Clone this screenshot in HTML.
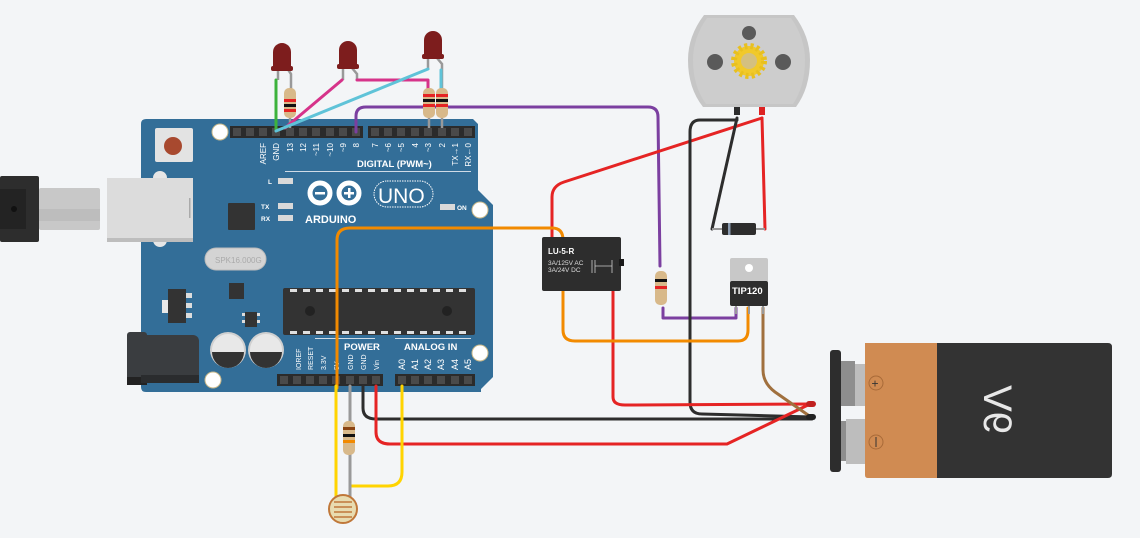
<!DOCTYPE html>
<html><head><meta charset="utf-8"><style>
html,body{margin:0;padding:0;background:#f3f5f7;}
svg{display:block;font-family:"Liberation Sans",sans-serif;}
</style></head><body>
<svg width="1140" height="538" viewBox="0 0 1140 538" xmlns="http://www.w3.org/2000/svg">
<rect width="1140" height="538" fill="#f3f5f7"/>
<rect x="0" y="176" width="39" height="66" fill="#2d2d2d" rx="2"/>
<rect x="0" y="189" width="26" height="40" fill="#232323"/>
<circle cx="14" cy="209" r="3" fill="#111"/>
<rect x="39" y="188" width="61" height="42" fill="#c8c8c8" rx="2"/>
<rect x="39" y="209" width="61" height="12" fill="#bdbdbd"/>
<path d="M146 119 H473 L478 124 V190 L493 205 V377 L481 389 V392 H146 Q141 392 141 387 V124 Q141 119 146 119 Z" fill="#336e98"/>
<rect x="153" y="171" width="14" height="76" rx="7" fill="#e6e6e6"/>
<rect x="107" y="178" width="86" height="63" fill="#dcdcdc"/>
<rect x="107" y="238" width="86" height="4" fill="#bdbdbd"/>
<rect x="189" y="198" width="1.5" height="20" fill="#aaa"/>
<rect x="155" y="128" width="38" height="34" rx="2" fill="#e3e3e3"/>
<circle cx="173" cy="146" r="9" fill="#a8492f"/>
<g fill="#fff" stroke="#c8b88a" stroke-width="1"><circle cx="220" cy="132" r="8"/><circle cx="480" cy="210" r="8"/><circle cx="480" cy="353" r="8"/><circle cx="213" cy="380" r="8"/></g>
<g fill="#2b2b2b"><rect x="230" y="126" width="133" height="12"/><rect x="368" y="126" width="107" height="12"/><rect x="277" y="374" width="106" height="12"/><rect x="395" y="374" width="80" height="12"/></g>
<g fill="#4a4a4a">
<rect x="233" y="128" width="8" height="8"/><rect x="246" y="128" width="8" height="8"/><rect x="259" y="128" width="8" height="8"/><rect x="272" y="128" width="8" height="8"/><rect x="286" y="128" width="8" height="8"/><rect x="299" y="128" width="8" height="8"/><rect x="312" y="128" width="8" height="8"/><rect x="326" y="128" width="8" height="8"/><rect x="339" y="128" width="8" height="8"/><rect x="352" y="128" width="8" height="8"/>
<rect x="371" y="128" width="8" height="8"/><rect x="384" y="128" width="8" height="8"/><rect x="397" y="128" width="8" height="8"/><rect x="411" y="128" width="8" height="8"/><rect x="424" y="128" width="8" height="8"/><rect x="438" y="128" width="8" height="8"/><rect x="451" y="128" width="8" height="8"/><rect x="464" y="128" width="8" height="8"/>
<rect x="280" y="376" width="8" height="8"/><rect x="293" y="376" width="8" height="8"/><rect x="306" y="376" width="8" height="8"/><rect x="319" y="376" width="8" height="8"/><rect x="332" y="376" width="8" height="8"/><rect x="346" y="376" width="8" height="8"/><rect x="359" y="376" width="8" height="8"/><rect x="372" y="376" width="8" height="8"/>
<rect x="398" y="376" width="8" height="8"/><rect x="411" y="376" width="8" height="8"/><rect x="424" y="376" width="8" height="8"/><rect x="437" y="376" width="8" height="8"/><rect x="451" y="376" width="8" height="8"/><rect x="464" y="376" width="8" height="8"/>
</g>
<g fill="#fff" font-size="8" text-anchor="end">
<text transform="translate(266,143) rotate(-90)">AREF</text>
<text transform="translate(279,143) rotate(-90)">GND</text>
<text transform="translate(293,143) rotate(-90)">13</text>
<text transform="translate(306,143) rotate(-90)">12</text>
<text transform="translate(319,143) rotate(-90)">~11</text>
<text transform="translate(333,143) rotate(-90)">~10</text>
<text transform="translate(346,143) rotate(-90)">~9</text>
<text transform="translate(359,143) rotate(-90)">8</text>
<text transform="translate(378,143) rotate(-90)">7</text>
<text transform="translate(391,143) rotate(-90)">~6</text>
<text transform="translate(404,143) rotate(-90)">~5</text>
<text transform="translate(418,143) rotate(-90)">4</text>
<text transform="translate(431,143) rotate(-90)">~3</text>
<text transform="translate(445,143) rotate(-90)">2</text>
<text transform="translate(458,143) rotate(-90)">TX→1</text>
<text transform="translate(471,143) rotate(-90)">RX←0</text>
</g>
<g fill="#fff" font-size="7" text-anchor="start">
<text transform="translate(301,370) rotate(-90)">IOREF</text>
<text transform="translate(313,370) rotate(-90)">RESET</text>
<text transform="translate(326,370) rotate(-90)">3.3V</text>
<text transform="translate(339,370) rotate(-90)">5V</text>
<text transform="translate(353,370) rotate(-90)">GND</text>
<text transform="translate(366,370) rotate(-90)">GND</text>
<text transform="translate(379,370) rotate(-90)">Vin</text>
</g>
<g fill="#fff" font-size="9" text-anchor="start">
<text transform="translate(405,370) rotate(-90)">A0</text>
<text transform="translate(418,370) rotate(-90)">A1</text>
<text transform="translate(431,370) rotate(-90)">A2</text>
<text transform="translate(444,370) rotate(-90)">A3</text>
<text transform="translate(458,370) rotate(-90)">A4</text>
<text transform="translate(471,370) rotate(-90)">A5</text>
</g>
<text x="357" y="167" fill="#fff" font-size="9.5" font-weight="bold">DIGITAL (PWM~)</text>
<rect x="285" y="171" width="186" height="1" fill="#cfdbe6"/>
<text x="344" y="350" fill="#fff" font-size="9.5" font-weight="bold">POWER</text>
<text x="404" y="350" fill="#fff" font-size="9.5" font-weight="bold">ANALOG IN</text>
<rect x="315" y="338" width="60" height="1" fill="#cfdbe6"/><rect x="395" y="338" width="76" height="1" fill="#cfdbe6"/>
<g fill="#d9d9d9"><rect x="278" y="178" width="15" height="6"/><rect x="278" y="203" width="15" height="6"/><rect x="278" y="215" width="15" height="6"/><rect x="440" y="204" width="15" height="6"/></g>
<g fill="#fff" font-size="6.5" font-weight="bold"><text x="268" y="184">L</text><text x="261" y="209">TX</text><text x="261" y="221">RX</text><text x="457" y="210">ON</text></g>
<g fill="none" stroke="#fff" stroke-width="5"><circle cx="320" cy="193" r="10"/><circle cx="349" cy="193" r="10"/></g>
<rect x="315" y="192" width="10" height="2.5" fill="#fff"/><rect x="344" y="192" width="10" height="2.5" fill="#fff"/><rect x="348" y="188" width="2.5" height="10" fill="#fff"/>
<text x="305" y="223" fill="#fff" font-size="11" font-weight="bold">ARDUINO</text>
<rect x="374" y="181" width="59" height="26" rx="13" fill="none" stroke="#fff" stroke-width="1" stroke-dasharray="1.5 1"/>
<text x="378" y="203" fill="#fff" font-size="21">UNO</text>
<rect x="228" y="203" width="27" height="27" fill="#333" rx="1"/>
<rect x="205" y="248" width="61" height="22" rx="11" fill="#d4d4d4" stroke="#bbb"/>
<text x="215" y="263" fill="#aaa" font-size="8">SPK16.000G</text>
<rect x="229" y="283" width="15" height="16" fill="#333"/>
<rect x="162" y="300" width="8" height="13" fill="#e8e8e8"/>
<rect x="168" y="289" width="18" height="34" fill="#333"/>
<g fill="#ddd"><rect x="186" y="293" width="6" height="5"/><rect x="186" y="303" width="6" height="5"/><rect x="186" y="313" width="6" height="5"/></g>
<rect x="245" y="312" width="12" height="15" fill="#333"/>
<g fill="#ddd"><rect x="242" y="313" width="3" height="3"/><rect x="242" y="320" width="3" height="3"/><rect x="257" y="313" width="3" height="3"/><rect x="257" y="320" width="3" height="3"/></g>
<rect x="283" y="288" width="192" height="47" rx="2" fill="#333"/>
<g fill="#e0e0e0">
<rect x="290" y="289" width="7" height="3"/><rect x="303" y="289" width="7" height="3"/><rect x="316" y="289" width="7" height="3"/><rect x="329" y="289" width="7" height="3"/><rect x="342" y="289" width="7" height="3"/><rect x="355" y="289" width="7" height="3"/><rect x="368" y="289" width="7" height="3"/><rect x="381" y="289" width="7" height="3"/><rect x="394" y="289" width="7" height="3"/><rect x="407" y="289" width="7" height="3"/><rect x="420" y="289" width="7" height="3"/><rect x="433" y="289" width="7" height="3"/><rect x="446" y="289" width="7" height="3"/><rect x="459" y="289" width="7" height="3"/>
<rect x="290" y="331" width="7" height="3"/><rect x="303" y="331" width="7" height="3"/><rect x="316" y="331" width="7" height="3"/><rect x="329" y="331" width="7" height="3"/><rect x="342" y="331" width="7" height="3"/><rect x="355" y="331" width="7" height="3"/><rect x="368" y="331" width="7" height="3"/><rect x="381" y="331" width="7" height="3"/><rect x="394" y="331" width="7" height="3"/><rect x="407" y="331" width="7" height="3"/><rect x="420" y="331" width="7" height="3"/><rect x="433" y="331" width="7" height="3"/><rect x="446" y="331" width="7" height="3"/><rect x="459" y="331" width="7" height="3"/>
</g>
<circle cx="310" cy="311" r="5" fill="#222"/><circle cx="447" cy="311" r="5" fill="#222"/>
<circle cx="228" cy="350" r="18" fill="#d0d0d0"/><circle cx="228" cy="350" r="16" fill="#e8e8e8"/><path d="M212 352 H244 A16 16 0 0 1 212 352Z" fill="#333"/>
<circle cx="266" cy="350" r="18" fill="#d0d0d0"/><circle cx="266" cy="350" r="16" fill="#e8e8e8"/><path d="M250 352 H282 A16 16 0 0 1 250 352Z" fill="#333"/>
<rect x="127" y="332" width="20" height="50" rx="3" fill="#3a3d40"/>
<rect x="127" y="377" width="20" height="8" fill="#222"/>
<rect x="141" y="335" width="58" height="48" rx="6" fill="#3a3d40"/>
<rect x="141" y="375" width="58" height="8" fill="#2a2c2e"/>
<g stroke="#999" stroke-width="2.5" fill="none">
<path d="M278 68 V80"/><path d="M287 68 L291 74 V90"/>
<path d="M343 68 V80"/><path d="M352 68 L357 74 V80"/>
<path d="M428 58 V70"/><path d="M437 58 L442 64 V90"/>
<path d="M290 112 V128"/><path d="M429 112 V128"/><path d="M442 112 V128"/>
</g>
<g fill="#7d1d1d">
<path d="M273 70 V52 A9 9 0 0 1 291 52 V70Z"/><rect x="271" y="66" width="22" height="5" rx="2"/>
<path d="M339 68 V50 A9 9 0 0 1 357 50 V68Z"/><rect x="337" y="64" width="22" height="5" rx="2"/>
<path d="M424 58 V40 A9 9 0 0 1 442 40 V58Z"/><rect x="422" y="54" width="22" height="5" rx="2"/>
</g>
<g fill="none" stroke-width="3" stroke-linejoin="round" stroke-linecap="round">
<path d="M276 80 V130" stroke="#3cb23c"/>
<path d="M342 80 L285 128" stroke="#d6338a"/>
<path d="M357 80 H428 V90" stroke="#d6338a"/>
<path d="M428 69 L276 131" stroke="#5fc3d8"/>
<path d="M441 70 V90" stroke="#5fc3d8"/>
<path d="M356 132 V116 Q356 107 366 107 H648 Q658 107 658 117 L660 266" stroke="#7b3fa0"/>
<path d="M663 308 V318 H736 V308" stroke="#7b3fa0"/>
<path d="M552 238 V197 Q552 186 564 182 L762 118" stroke="#e52424"/>
<path d="M762 118 L765 229" stroke="#e52424"/>
<path d="M737 118 L712 229" stroke="#2d2d2d"/>
<path d="M737 120 H700 Q690 120 690 132 V402 Q690 414 702 414 L812 417" stroke="#2d2d2d"/>
<path d="M613 290 V397 Q613 405 625 405 L812 404" stroke="#e52424"/>
<path d="M363 386 V408 Q363 419 376 419 H812" stroke="#2d2d2d"/>
<path d="M376 386 V432 Q376 444 390 444 H727 L808 405" stroke="#e52424"/>
<path d="M337 388 V240 Q337 228 350 228 H552 Q563 228 563 240" stroke="#f28a00"/>
<path d="M563 290 V330 Q563 341 575 341 H738 Q748 341 748 330 V308" stroke="#f28a00"/>
<path d="M763 308 V370 Q763 383 775 392 L808 415" stroke="#a0703e"/>
<path d="M336 386 V497" stroke="#ffd400"/>
<path d="M402 386 V472 Q402 486 388 486 H350" stroke="#ffd400"/>
<path d="M350 386 V500" stroke="#999"/>
</g>
<g>
<rect x="284" y="88" width="12" height="30" rx="5" fill="#d8b98a"/>
<rect x="284" y="99" width="12" height="3" fill="#e52424"/><rect x="284" y="104" width="12" height="3" fill="#111"/><rect x="284" y="109" width="12" height="3" fill="#e52424"/>
<rect x="423" y="88" width="12" height="30" rx="5" fill="#d8b98a"/>
<rect x="423" y="94" width="12" height="3" fill="#e52424"/><rect x="423" y="99" width="12" height="3" fill="#111"/><rect x="423" y="104" width="12" height="3" fill="#e52424"/>
<rect x="436" y="88" width="12" height="30" rx="5" fill="#d8b98a"/>
<rect x="436" y="94" width="12" height="3" fill="#e52424"/><rect x="436" y="99" width="12" height="3" fill="#111"/><rect x="436" y="104" width="12" height="3" fill="#e52424"/>
<rect x="655" y="271" width="12" height="34" rx="5" fill="#d8b98a"/>
<rect x="655" y="279" width="12" height="3" fill="#111"/><rect x="655" y="286" width="12" height="3" fill="#e52424"/>
<rect x="343" y="421" width="12" height="34" rx="5" fill="#d8b98a"/>
<rect x="343" y="427" width="12" height="3" fill="#8b4513"/><rect x="343" y="434" width="12" height="3" fill="#111"/><rect x="343" y="440" width="12" height="3" fill="#f28a00"/>
</g>
<circle cx="343" cy="509" r="14" fill="#e8dcb0" stroke="#c0783a" stroke-width="2"/>
<path d="M334 502 H352 M334 507 H352 M334 512 H352 M334 517 H352" stroke="#c0783a" stroke-width="1.5"/>
<rect x="542" y="237" width="79" height="54" rx="2" fill="#2d2d2d"/>
<rect x="619" y="259" width="5" height="7" fill="#1a1a1a"/>
<text x="548" y="254" fill="#fff" font-size="8" font-weight="bold">LU-5-R</text>
<text x="548" y="265" fill="#ddd" font-size="6.5">3A/125V AC</text>
<text x="548" y="272" fill="#ddd" font-size="6.5">3A/24V  DC</text>
<path d="M592 260 V273 M595 260 V273 M595 266 H612 M612 260 V273" stroke="#ccc" stroke-width="0.8"/>
<rect x="722" y="223" width="34" height="12" rx="2" fill="#2d2d2d"/>
<rect x="728" y="223" width="2.5" height="12" fill="#8a9bb0"/>
<path d="M712 229 H722 M756 229 H765" stroke="#999" stroke-width="2"/>
<rect x="730" y="258" width="38" height="24" rx="2" fill="#c8c8c8"/>
<circle cx="749" cy="268" r="4" fill="#fff"/>
<rect x="730" y="281" width="38" height="25" rx="2" fill="#2d2d2d"/>
<text x="732" y="294" fill="#fff" font-size="9.5" font-weight="bold">TIP120</text>
<path d="M736 306 V314 M749 306 V314 M763 306 V314" stroke="#999" stroke-width="2"/>
<path d="M704 15 H794 Q810 36 810 60 Q810 88 796 107 H703 Q688 88 688 60 Q688 36 704 15Z" fill="#c6c6c6"/>
<path d="M707 18 H791 Q805 38 805 60 Q805 86 793 104 H706 Q693 86 693 60 Q693 38 707 18Z" fill="#cdcdcd"/>
<circle cx="749" cy="33" r="7" fill="#5a5a5a"/><circle cx="715" cy="62" r="8" fill="#5a5a5a"/><circle cx="783" cy="62" r="8" fill="#5a5a5a"/>
<circle cx="749" cy="61" r="15" fill="#f1c92a" stroke="#e8c020" stroke-width="6" stroke-dasharray="3 3"/>
<circle cx="749" cy="61" r="8" fill="#d4c080"/>
<rect x="734" y="107" width="6" height="8" fill="#2d2d2d"/><rect x="759" y="107" width="6" height="8" fill="#d22"/>
<rect x="830" y="350" width="11" height="122" rx="3" fill="#2d2d2d"/>
<rect x="841" y="361" width="14" height="45" fill="#8e8e8e"/><rect x="855" y="364" width="10" height="42" fill="#bdbdbd"/>
<rect x="841" y="421" width="14" height="40" fill="#8e8e8e"/><rect x="846" y="419" width="19" height="45" fill="#bdbdbd"/>
<path d="M865 343 H937 V478 H868 Q865 478 865 475Z" fill="#d08b52"/>
<path d="M937 343 H1108 Q1112 343 1112 347 V474 Q1112 478 1108 478 H937Z" fill="#333"/>
<circle cx="876" cy="383" r="7" fill="none" stroke="#a86a38"/><text x="871.5" y="387.5" font-size="12" fill="#333">+</text>
<circle cx="876" cy="442" r="7" fill="none" stroke="#a86a38"/><rect x="875.5" y="437" width="1" height="10" fill="#333"/>
<text transform="translate(984,434) scale(-1,1) rotate(-90)" fill="#e8e8e8" font-size="40">9V</text>
<rect x="806" y="401" width="10" height="6" rx="3" fill="#c02020"/>
<rect x="806" y="414" width="10" height="6" rx="3" fill="#222"/>
</svg>
</body></html>
